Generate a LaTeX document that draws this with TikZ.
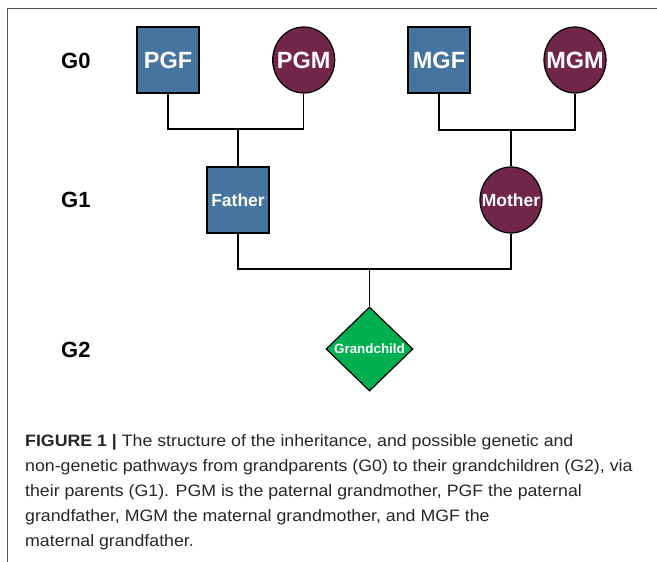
\documentclass[tikz,border=0pt]{standalone}
\usepackage{fontspec}
\setmainfont{Liberation Sans}
\newfontfamily\capfont{Liberation Sans}[FakeStretch=1.075]
\usepackage{tikz}
\usetikzlibrary{shapes.geometric}
\definecolor{maleblue}{RGB}{69,116,158}
\definecolor{femalered}{RGB}{114,38,74}
\definecolor{kidgreen}{RGB}{0,176,80}
\definecolor{framegray}{RGB}{85,85,85}

\begin{document}
\begin{tikzpicture}[x=1pt,y=1pt]
\tikzstyle{every node}+=[inner sep=0pt]
\tikzstyle{malebox}=[draw=black, line width=1.2pt, fill=maleblue, text=white, minimum width=62pt, minimum height=66pt, font=\fontsize{23.5}{27}\selectfont\bfseries]
\tikzstyle{femalebox}=[ellipse, inner xsep=-20pt, inner ysep=-20pt, draw=black, line width=1.2pt, fill=femalered, text=white, minimum width=62pt, minimum height=66pt, font=\fontsize{23.5}{27}\selectfont\bfseries]
\tikzstyle{kidbox}=[diamond, aspect=1, draw=black, line width=1.2pt, fill=kidgreen, text=white, minimum width=87pt, minimum height=84pt, font=\fontsize{13.4}{15}\selectfont\bfseries]
\tikzstyle{genlabel}=[anchor=west, font=\fontsize{22}{26}\selectfont\bfseries]
\tikzstyle{link}=[black, line width=1.3pt]
\useasboundingbox (0,0) rectangle (657,-562);
\draw [framegray, line width=1.2pt] (7.7,-562) -- (7.7,-8.5) -- (657,-8.5);
% generations
\node [genlabel] (g0) at (61,-60.5) {G0};
\node [genlabel] (g1) at (61,-200) {G1};
\node [genlabel] (g2) at (61,-350) {G2};
% grandparents
\node [malebox] (pgf) at (168,-60) {PGF};
\node [femalebox] (pgm) at (303.7,-60) {PGM};
\node [malebox] (mgf) at (439,-60) {MGF};
\node [femalebox] (mgm) at (575,-60) {MGM};
% parents
\node [malebox, font=\fontsize{17.5}{20}\selectfont\bfseries] (father) at (238,-200) {Father};
\node [femalebox, font=\fontsize{17.5}{20}\selectfont\bfseries] (mother) at (511,-200) {Mother};
% grandchild
\node [kidbox] (kid) at (369.5,-349) {Grandchild};
\coordinate (pat) at (238,-129);
\coordinate (mat) at (511,-130);
\coordinate (par) at (369.5,-269);
\draw [link] (pgf.south) |- (pat) -| (pgm.south);
\draw [link] (pat) -- (father.north);
\draw [link] (mgf.south) |- (mat) -| (mgm.south);
\draw [link] (mat) -- (mother.north);
\draw [link] (father.south) |- (par) -| (mother.south);
\draw [link] (par) -- (kid.north);
% caption
\node [anchor=north west, align=left, text=black!85, font=\capfont\fontsize{16.5}{25}\selectfont] (caption) at (25,-434.5)
{\textbf{FIGURE 1 |} The structure of the inheritance, and possible genetic and\\
non-genetic pathways from grandparents (G0) to their grandchildren (G2), via\\
their parents (G1). PGM is the paternal grandmother, PGF the paternal\\
grandfather, MGM the maternal grandmother, and MGF the\\
maternal grandfather.};
\end{tikzpicture}
\end{document}
